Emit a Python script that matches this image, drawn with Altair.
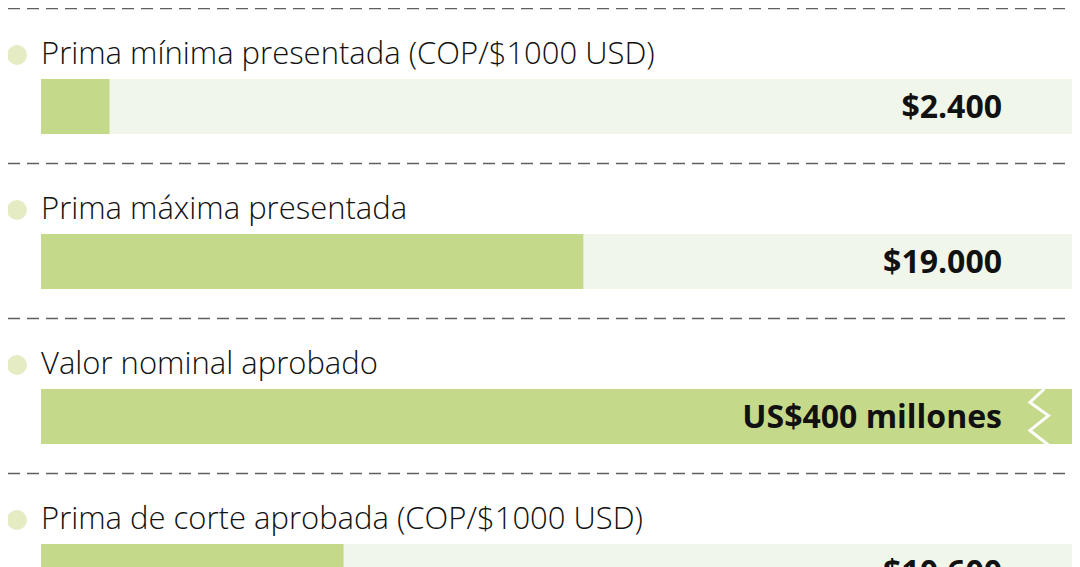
import altair as alt
import pandas as pd

labels = [
    "Prima mínima presentada (COP/$1000 USD)",
    "Prima máxima presentada",
    "Valor nominal aprobado",
    "Prima de corte aprobada (COP/$1000 USD)",
]
values = [2400, 19000, None, 10600]          # COP per US$1000 (row 3 is in another unit)
value_text = ["$2.400", "$19.000", "US$400 millones", "$10.600"]
broken = [False, False, True, False]        # bar exceeds the track (drawn with a break)
TRACK_MAX = 36400

fill = [v if v is not None else TRACK_MAX for v in values]
df = pd.DataFrame({
    "label": labels,
    "fill": fill,
    "track": [TRACK_MAX] * len(labels),
    "zero": [0] * len(labels),
    "text": value_text,
    "broken": broken,
})

GREEN = "#c5d98a"
TRACK = "#f0f6e9"
DOT = "#e5ecc4"

yscale = alt.Scale(paddingInner=0, paddingOuter=0, range=[0, 620])
yband = alt.Y("label:N", sort=labels, axis=None, scale=yscale)
ytop = alt.Y("label:N", sort=labels, axis=None, bandPosition=0, scale=yscale)
xscale = alt.Scale(domain=[0, TRACK_MAX], range=[33, 1072])

base = alt.Chart(df)

rules = base.mark_rule(color="#5f5f5f", strokeWidth=1.5, strokeDash=[12, 7], yOffset=0.5).encode(
    y=ytop, x=alt.value(0), x2=alt.value(1072)
)

dots = base.mark_circle(color=DOT, opacity=1, size=400, yOffset=47).encode(
    y=ytop, x=alt.value(9)
)

names = base.mark_text(align="left", baseline="alphabetic", font="Open Sans",
                       fontWeight=300, fontSize=31, color="#111111", yOffset=56).encode(
    y=ytop, x=alt.value(33), text="label:N"
)

track = base.mark_bar(color=TRACK, size=55, yOffset=21).encode(
    y=yband,
    x=alt.X("zero:Q", scale=xscale, axis=None),
    x2="track:Q",
)

bars = base.mark_bar(color=GREEN, size=55, yOffset=21).encode(
    y=yband,
    x=alt.X("zero:Q", scale=xscale, axis=None),
    x2="fill:Q",
)

zig = base.transform_filter("datum.broken").mark_point(
    shape="M0.15,-1 L-0.36,-0.52 L0.3,-0.05 L-0.36,0.48 L0.3,1",
    filled=False, stroke="white", strokeWidth=3, opacity=1, size=3136,
    xOffset=-40, yOffset=99,
).encode(
    y=ytop, x=alt.X("fill:Q", scale=xscale, axis=None)
)

values_txt = base.mark_text(align="right", baseline="alphabetic", font="Open Sans",
                            fontWeight=700, fontSize=32, color="#111111", yOffset=110).encode(
    y=ytop, x=alt.value(994), text="text:N"
)

chart = alt.layer(rules, dots, names, track, bars, zig, values_txt).properties(
    width=1064, height=559, padding=0, autosize=alt.AutoSizeParams(type="none")
).configure_view(stroke=None)

chart.save("out.html", embed_options={"renderer": "svg", "actions": False})
